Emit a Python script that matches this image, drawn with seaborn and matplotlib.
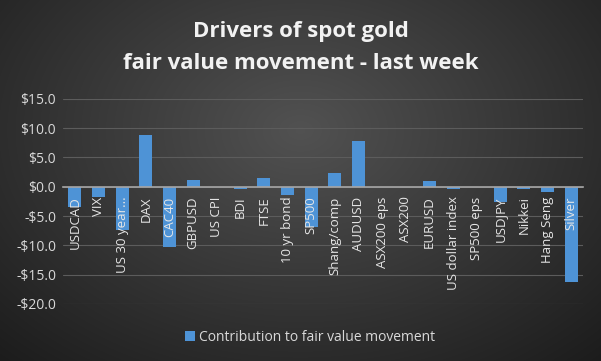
import numpy as np
import pandas as pd
import matplotlib
matplotlib.use("Agg")
import matplotlib.pyplot as plt
import seaborn as sns
from matplotlib.ticker import FuncFormatter

# Data
drivers = ["USDCAD", "VIX", "US 30 year...", "DAX", "CAC40", "GBPUSD", "US CPI",
           "BDI", "FTSE", "10 yr bond", "SP500", "Shang/comp", "AUDUSD",
           "ASX200 eps", "ASX200", "EURUSD", "US dollar index", "SP500 eps",
           "USDJPY", "Nikkei", "Hang Seng", "Silver"]
contribution = [-3.5, -1.7, -7.4, 8.8, -10.3, 1.1, 0.0,
                -0.45, 1.5, -1.4, -6.8, 2.4, 7.8,
                0.0, 0.0, 1.0, -0.4, 0.0,
                -2.55, -0.45, -0.95, -16.3]
series_name = "Contribution to fair value movement"

df = pd.DataFrame({"driver": drivers, "value": contribution})

sns.set_style("white")
plt.rcParams["font.family"] = ["Open Sans", "DejaVu Sans"]

fig = plt.figure(figsize=(6.01, 3.61), dpi=100)

# radial gradient background like the Excel dark style
bg = fig.add_axes([0, 0, 1, 1], zorder=-5)
yy, xx = np.mgrid[0:361, 0:601]
r = np.sqrt(((xx - 300) / 420.0) ** 2 + ((yy - 130) / 300.0) ** 2)
shade = np.clip(0.32 - 0.2 * r, 0.11, 0.32)
bg.imshow(np.dstack([shade] * 3), aspect="auto", extent=[0, 1, 0, 1])
bg.axis("off")

ax = fig.add_axes([0.105, 0.158, 0.865, 0.568])
ax.set_facecolor("none")

sns.barplot(data=df, x="driver", y="value", color="#4e93d6", width=0.55,
            saturation=1, label=series_name, edgecolor="none", linewidth=0, ax=ax)

ax.set_ylim(-20, 15)
ax.set_xlim(-0.5, len(drivers) - 0.5)
ax.set_yticks(np.arange(-20, 16, 5))
ax.yaxis.set_major_formatter(FuncFormatter(lambda v, p: f"-${abs(v):.1f}" if v < 0 else f"${v:.1f}"))
ax.grid(axis="y", color="#5c5c5c", linewidth=0.8)
ax.set_axisbelow(False)
ax.yaxis.set_zorder(0.5)   # grid under bars
ax.xaxis.set_zorder(4)     # category labels over bars

for s in ["top", "right", "left"]:
    ax.spines[s].set_visible(False)
ax.spines["bottom"].set_position(("data", 0))
ax.spines["bottom"].set_color("#a6a6a6")
ax.spines["bottom"].set_linewidth(1.2)
ax.spines["bottom"].set_zorder(3)

ax.tick_params(axis="x", length=0, pad=7, labelsize=9.5, labelcolor="#e6e6e6", labelrotation=90)
ax.tick_params(axis="y", length=0, pad=5, labelsize=10, labelcolor="#d9d9d9")
for lbl in ax.get_xticklabels():
    lbl.set_verticalalignment("top")
ax.set_xlabel("")
ax.set_ylabel("")

fig.text(0.5, 0.914, "Drivers of spot gold", ha="center", va="center",
         fontsize=16, fontweight="bold", color="#f2f2f2")
fig.text(0.5, 0.825, "fair value movement - last week", ha="center", va="center",
         fontsize=16, fontweight="bold", color="#f2f2f2")

leg = ax.legend(loc="center", bbox_to_anchor=(0.475, -0.162), frameon=False,
                fontsize=10, handlelength=0.7, handleheight=0.7, handletextpad=0.3)
for t in leg.get_texts():
    t.set_color("#d9d9d9")

fig.savefig("out.png", dpi=100)
